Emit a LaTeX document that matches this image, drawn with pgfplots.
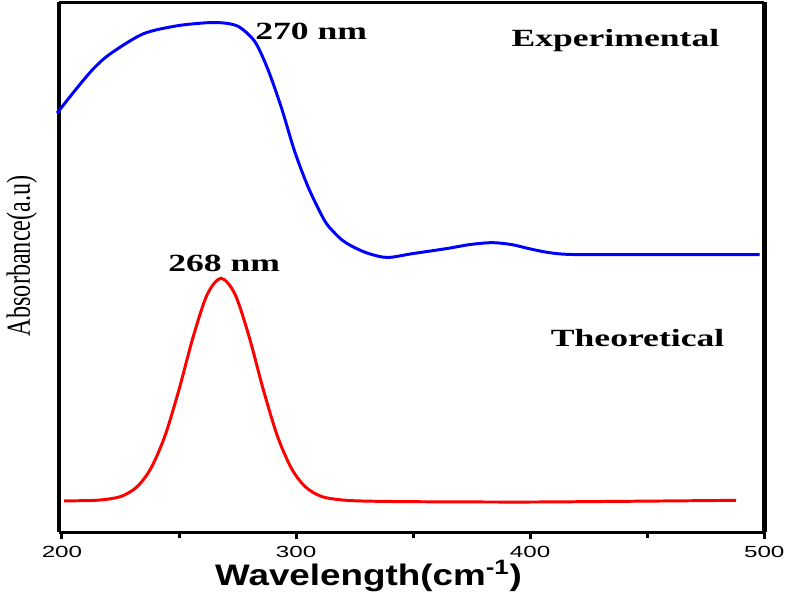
\documentclass[border=0pt]{standalone}
\usepackage{pgfplots}
\pgfplotsset{compat=1.18}
\usepackage{fontspec}
\setmainfont{Liberation Serif}
\newfontfamily\ylfont[FakeStretch=0.72]{Liberation Serif}
\newfontfamily\annfont[FakeStretch=1.44]{Liberation Serif}
\newfontfamily\xlfont[FakeStretch=1.24]{Liberation Sans}
\newfontfamily\tkfont[FakeStretch=1.5]{Liberation Sans}
\begin{document}
\begin{tikzpicture}
\begin{axis}[
  scale only axis,
  width=356.5pt, height=268pt,
  xmin=198.7, xmax=500,
  ymin=0, ymax=536,
  xtick={200,300,400,500},
  minor xtick={250,350,450},
  ytick=\empty,
  tick align=outside,
  xtick pos=bottom,
  major tick length=3.5pt,
  minor tick length=3pt,
  every tick/.style={black, line width=1.5pt},
  separate axis lines,
  every outer x axis line/.append style={line width=1.3pt},
  every outer y axis line/.append style={line width=2.3pt},
  /pgf/number format/assume math mode=true,
  xticklabel style={font=\tkfont\fontsize{8.15pt}{9pt}\selectfont},
  xlabel={\xlfont\bfseries\fontsize{15pt}{17pt}\selectfont Wavelength(cm\textsuperscript{-1})},
  xlabel style={at={(axis description cs:0.439,0)}, anchor=center, yshift=-22pt},
  ylabel={\ylfont\fontsize{17pt}{19pt}\selectfont Absorbance(a.u)},
  ylabel style={at={(axis description cs:-0.0526,0.522)}, anchor=center},
  clip=false,
]
\addplot[blue, line width=1.5pt, smooth] coordinates {
(197.9,424) (206.3,449) (213.5,469) (220.7,484) (234.6,504) (248.6,512)
(260,515) (266,515.5) (271,514.5) (275,512) (279,505) (283,494) (288,468)
(293.8,429) (299.3,386) (305.2,349) (312,316) (316,304) (320,295)
(325,288) (331,282) (339,278) (350,282) (364.3,287) (374.1,291) (383.8,293)
(392.2,291) (399.4,287) (407.9,283) (418.4,281) (450,281) (498,281)
};
\addplot[red, line width=1.5pt, smooth] coordinates {
(200.8,32) (215,32.6) (225,36.3) (232,46.1) (238,64.9) (244,97.7)
(250,144.5) (256,197.4) (262,240.4) (268,257) (274,240.4) (280,197.4)
(286,144.5) (292,97.7) (298,64.9) (304,46.1) (311,36.3) (321,32.6)
(335,31.5) (360,31) (400,30.8) (440,31.5) (488,32.5)
};
\node[font=\annfont\bfseries\fontsize{12.5pt}{14pt}\selectfont] at (axis cs:306.5,507) {270 nm};
\node[font=\annfont\bfseries\fontsize{12.5pt}{14pt}\selectfont] at (axis cs:436.4,497) {Experimental};
\node[font=\annfont\bfseries\fontsize{12.5pt}{14pt}\selectfont] at (axis cs:269.3,272) {268 nm};
\node[font=\annfont\bfseries\fontsize{12.5pt}{14pt}\selectfont] at (axis cs:445.9,197) {Theoretical};
\end{axis}
\end{tikzpicture}
\end{document}
